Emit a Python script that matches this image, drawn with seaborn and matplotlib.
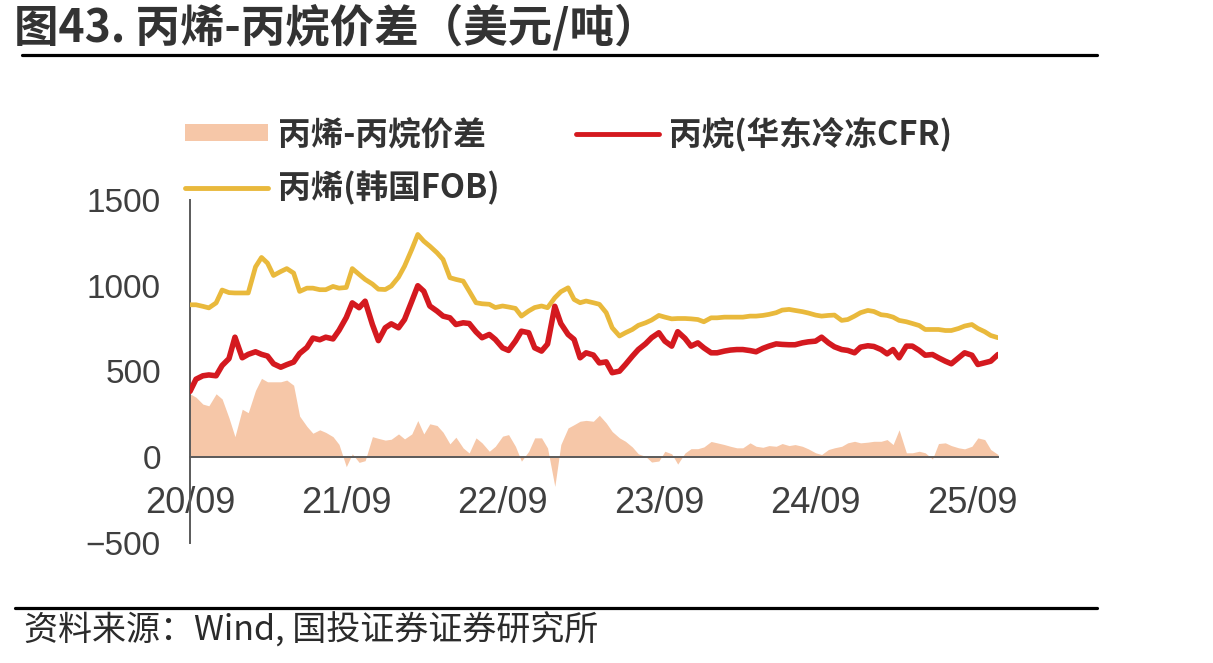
import numpy as np
import pandas as pd
import matplotlib
matplotlib.use("Agg")
import matplotlib.pyplot as plt
import matplotlib.dates as mdates
from matplotlib.lines import Line2D
from matplotlib.patches import Patch
import seaborn as sns

# ---------------- data (semi-monthly samples) ----------------
dates = pd.date_range("2020-09-01", "2025-11-01", freq="SMS")

propylene_fob_korea = [
    889, 889, 880, 871, 900, 975, 960, 958,
    958, 958, 1110, 1165, 1132, 1060, 1083, 1100, 1074, 967, 986, 986,
    977, 977, 996, 986, 990, 1100, 1066, 1037, 1010, 980, 978, 998,
    1050, 1114, 1212, 1299, 1260, 1231, 1192, 1153, 1047, 1037, 1027, 969,
    901, 895, 892, 873, 882, 876, 868, 823, 853, 873, 882, 872,
    930, 965, 988, 920, 901, 911, 901, 892, 843, 755, 707, 726,
    745, 769, 784, 800, 827, 817, 807, 809, 809, 807, 803, 790,
    813, 813, 817, 817, 817, 817, 823, 823, 827, 833, 843, 858,
    862, 856, 849, 841, 829, 823, 827, 829, 798, 803, 823, 843,
    856, 850, 831, 827, 817, 798, 790, 780, 768, 745, 745, 745,
    739, 739, 751, 765, 774, 751, 732, 710, 697,
]

propane_cfr_east_china = [
    384, 455, 475, 480, 475, 535, 575, 700,
    580, 600, 615, 600, 590, 545, 525, 540, 555, 605, 640, 695,
    685, 700, 690, 740, 815, 900, 872, 910, 774, 680, 755, 778,
    755, 803, 910, 1000, 968, 882, 852, 823, 813, 774, 784, 780,
    731, 697, 716, 687, 638, 623, 677, 735, 726, 638, 619, 660,
    880, 780, 716, 687, 580, 609, 596, 550, 556, 493, 502, 541,
    589, 628, 662, 697, 726, 677, 648, 732, 693, 648, 667, 638,
    609, 609, 619, 625, 628, 628, 622, 615, 635, 648, 661, 658,
    656, 656, 667, 673, 677, 700, 667, 644, 628, 623, 609, 642,
    650, 646, 628, 603, 628, 580, 648, 648, 623, 595, 599, 580,
    560, 545, 580, 609, 595, 541, 551, 560, 599,
]

spread = [
    370, 350, 310, 300, 370, 340, 230, 120,
    280, 260, 390, 460, 440, 440, 440, 450, 420, 240, 180, 140,
    160, 145, 120, 75, -55, 20, -30, -20, 120, 110, 100, 105,
    136, 107, 136, 214, 136, 195, 185, 146, 78, 117, 54, 25,
    113, 84, 35, 64, 123, 132, 64, -23, 35, 113, 113, 54,
    -170, 74, 171, 190, 210, 215, 210, 245, 200, 150, 113, 93,
    60, 20, 5, -28, -22, 35, 20, -40, 25, 50, 50, 60,
    92, 84, 74, 64, 55, 55, 84, 64, 58, 68, 64, 80,
    68, 74, 64, 49, 26, 16, 45, 55, 64, 84, 93, 84,
    88, 93, 93, 103, 74, 160, 26, 26, 35, 26, -10, 80,
    84, 68, 55, 49, 64, 113, 103, 45, 16,
]

labels = ["丙烯-丙烷价差", "丙烯(韩国FOB)", "丙烷(华东冷冻CFR)"]
y_ticks = [-500, 0, 500, 1000, 1500]

df = pd.DataFrame({"date": dates,
                   "propylene": propylene_fob_korea,
                   "propane": propane_cfr_east_china,
                   "spread": spread})

# ---------------- style ----------------
sns.set_style("white")
plt.rcParams["font.family"] = ["Noto Sans CJK SC", "DejaVu Sans"]

C_YEL = "#E9B93C"
C_RED = "#D4191F"
C_PEACH = "#F6C7A8"
C_AXIS = "#5A5A5A"
C_TEXT = "#3F3F3F"

W, H = 1213, 663
fig = plt.figure(figsize=(W / 100, H / 100), dpi=100)
left, right, top, bottom = 190, 998, 200, 543
ax = fig.add_axes([left / W, 1 - bottom / H, (right - left) / W, (bottom - top) / H])

ax.fill_between(df["date"], 0, df["spread"], color=C_PEACH, lw=0, zorder=1)
sns.lineplot(data=df, x="date", y="propylene", ax=ax, color=C_YEL, lw=3.4, zorder=3)
sns.lineplot(data=df, x="date", y="propane", ax=ax, color=C_RED, lw=4.0, zorder=4)

ax.set_xlim(df["date"].iloc[0], df["date"].iloc[-1])
ax.set_ylim(-500, 1500)
ax.set_yticks(y_ticks)
ax.set_xlabel("")
ax.set_ylabel("")

ax.xaxis.set_major_locator(mdates.MonthLocator(bymonth=9, bymonthday=1))
ax.xaxis.set_major_formatter(mdates.DateFormatter("%y/%m"))

for s in ["top", "right"]:
    ax.spines[s].set_visible(False)
ax.spines["bottom"].set_position(("data", 0))
for s in ["left", "bottom"]:
    ax.spines[s].set_color(C_AXIS)
    ax.spines[s].set_linewidth(1.4)

ax.tick_params(axis="both", direction="out", length=7, width=1.4, color=C_AXIS,
               labelcolor=C_TEXT)
ax.tick_params(axis="x", pad=14)
ax.tick_params(axis="y", pad=14)
for t in ax.get_yticklabels():
    t.set_fontfamily("Liberation Sans")
    t.set_fontsize(24)
for t in ax.get_xticklabels():
    t.set_fontfamily("Liberation Sans")
    t.set_fontsize(26)

# ---------------- legend ----------------
handles = [
    Patch(facecolor=C_PEACH, edgecolor="none"),
    Line2D([], [], color=C_YEL, lw=3.5),
    Line2D([], [], color=C_RED, lw=3.5),
]
fig.legend(handles=handles, labels=labels, loc="upper left",
           bbox_to_anchor=(185 / W, 1 - 116 / H), ncol=2, frameon=False,
           handlelength=2.55, handleheight=0.45, handletextpad=0.3,
           columnspacing=2.35, labelspacing=0.62, borderaxespad=0, borderpad=0,
           prop={"family": ["Noto Sans CJK SC", "DejaVu Sans"], "size": 23.5, "weight": "bold"},
           labelcolor="#333333")

# ---------------- title, rules, source ----------------
fig.text(14 / W, 1 - 28 / H, "图43. 丙烯-丙烷价差（美元/吨）", fontsize=32,
         fontweight="bold", va="center", ha="left", color="#333333")
fig.add_artist(Line2D([22 / W, 1097 / W], [1 - 55 / H] * 2, color="black", lw=2.3))
fig.add_artist(Line2D([15 / W, 1097 / W], [1 - 608 / H] * 2, color="black", lw=2.3))
fig.text(24 / W, 1 - 631 / H, "资料来源：Wind, 国投证券证券研究所", fontsize=24.5,
         va="center", ha="left", color="#2b2b2b")

fig.savefig("out.png", dpi=100)
